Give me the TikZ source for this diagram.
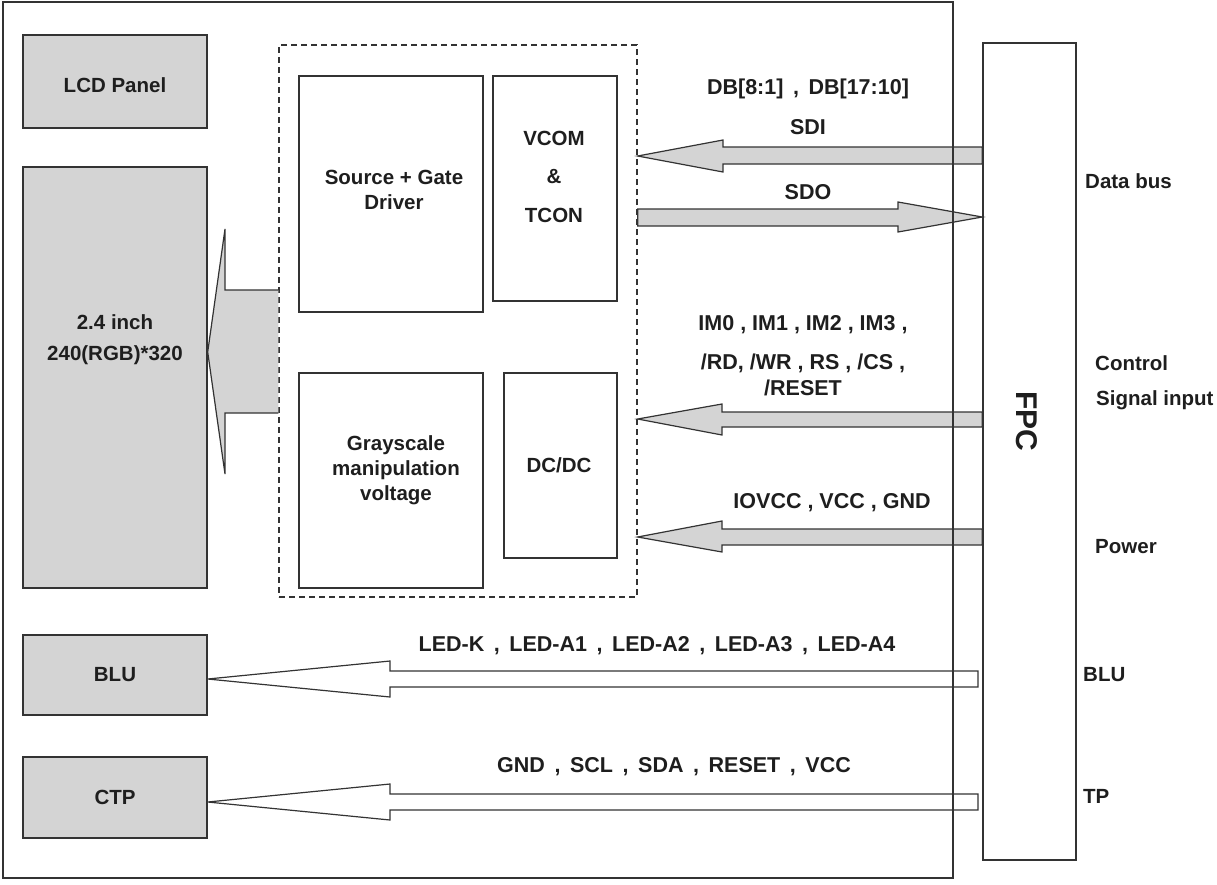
\documentclass[tikz,border=0pt]{standalone}
\usepackage{fontspec}
\setmainfont{Liberation Sans}
\definecolor{boxgray}{HTML}{D4D4D4}
\definecolor{linegray}{HTML}{333333}
\definecolor{txt}{HTML}{1E1E1E}
\begin{document}
\begin{tikzpicture}[x=1pt,y=-1pt,
  every node/.style={font=\fontsize{20.5}{24}\selectfont\bfseries, text=txt},
  blk/.style={draw=linegray, line width=1.4pt, inner sep=0pt, minimum width=#1},
  gblk/.style={blk=#1, fill=boxgray},
  fat/.style={draw=linegray, line width=1.2pt, fill=boxgray, line join=miter},
  thin/.style={draw=linegray, line width=1.2pt, fill=white, line join=miter},
  lbl/.style={inner sep=0pt},
  albl/.style={inner sep=0pt, font=\fontsize{21.5}{24}\selectfont\bfseries},
  rlbl/.style={inner sep=0pt, anchor=west}]
\useasboundingbox (0,0) rectangle (1217,884);

% left column boxes
\node[gblk=184pt, minimum height=93pt] (lcd) at (115,81.5) {};
\node[lbl] (lcdt) at (115,85) {LCD Panel};
\node[gblk=184pt, minimum height=421pt] (panel) at (115,377.5) {};
\node[lbl] (panelt1) at (115,322) {2.4 inch};
\node[lbl] (panelt2) at (115,355) {240(RGB)*320};
\node[gblk=184pt, minimum height=80pt] (blu) at (115,675) {};
\node[lbl] (blut) at (115,675) {BLU};
\node[gblk=184pt, minimum height=81pt] (ctp) at (115,797.5) {};
\node[lbl] (ctpt) at (115,797) {CTP};

% driver IC block
\node[draw=linegray, line width=1.3pt, dash pattern=on 6pt off 4pt, inner sep=0pt,
      minimum width=358pt, minimum height=552pt] (dash) at (458,321) {};
\node[blk=184pt, minimum height=236pt] (src) at (391,194) {};
\node[lbl] (srct1) at (394,177) {Source + Gate};
\node[lbl] (srct2) at (394,202) {Driver};
\node[blk=124pt, minimum height=225pt] (vcom) at (555,188.5) {};
\node[lbl] (vcomt1) at (554,138) {VCOM};
\node[lbl] (vcomt2) at (554,177) {\&};
\node[lbl] (vcomt3) at (554,215) {TCON};
\node[blk=184pt, minimum height=215pt] (gray) at (391,480.5) {};
\node[lbl] (grayt1) at (396,445) {Grayscale};
\node[lbl] (grayt2) at (396,470) {manipulation};
\node[lbl] (grayt3) at (396,495) {voltage};
\node[blk=113pt, minimum height=185pt] (dcdc) at (560.5,465.5) {};
\node[lbl] (dcdct) at (559,465) {DC/DC};

% FPC
\node[blk=93pt, minimum height=817pt, fill=white] (fpc) at (1029.5,451.5) {};
\node[lbl, rotate=-90, font=\fontsize{30}{34}\selectfont\bfseries] (fpct) at (1027,421) {FPC};

% big arrow to panel
\fill[boxgray] (panel.east |- 0,352) -- (225,229) -- (225,290) -- (dash.west |- 0,290)
   -- (dash.west |- 0,413) -- (225,413) -- (225,474) -- cycle;
\draw[linegray, line width=1.2pt, line join=miter] (dash.west |- 0,290) -- (225,290) -- (225,229)
   -- (panel.east |- 0,352) -- (225,474) -- (225,413) -- (dash.west |- 0,413);

% data bus arrows
\draw[fat] (dash.east |- 0,156) -- (723,140) -- (723,147) -- (fpc.west |- 0,147)
   -- (fpc.west |- 0,164) -- (723,164) -- (723,172) -- cycle;
\draw[fat] (dash.east |- 0,209) -- (898,209) -- (898,202) -- (fpc.west |- 0,217)
   -- (898,232) -- (898,226) -- (dash.east |- 0,226) -- cycle;
% control
\draw[fat] (dash.east |- 0,419) -- (722,404) -- (722,412) -- (fpc.west |- 0,412)
   -- (fpc.west |- 0,427) -- (722,427) -- (722,435) -- cycle;
% power
\draw[fat] (dash.east |- 0,537) -- (722,521) -- (722,529) -- (fpc.west |- 0,529)
   -- (fpc.west |- 0,545) -- (722,545) -- (722,552) -- cycle;
% BLU / CTP
\coordinate (bluEnd) at (978,679);
\coordinate (ctpEnd) at (978,802);
\draw[thin] (blu.east |- 0,679) -- (390,661) -- (390,671) -- (bluEnd |- 0,671)
   -- (bluEnd |- 0,687) -- (390,687) -- (390,697) -- cycle;
\draw[thin] (ctp.east |- 0,802) -- (390,784) -- (390,794) -- (ctpEnd |- 0,794)
   -- (ctpEnd |- 0,810) -- (390,810) -- (390,820) -- cycle;

% outer frame (over the arrows)
\draw[linegray, line width=1.3pt] (3,2) rectangle (953,878);

% arrow labels
\node[albl] (dbl) at (808,89) {DB[8:1]\, , \,DB[17:10]};
\node[albl] (sdil) at (808,127) {SDI};
\node[albl] (sdol) at (808,192) {SDO};
\node[albl] (ctl1) at (803,325) {IM0 , IM1 , IM2 , IM3 ,};
\node[albl] (ctl2) at (803,363) {/RD, /WR , RS , /CS ,};
\node[albl] (ctl3) at (803,388) {/RESET};
\node[albl] (pwl) at (832,503) {IOVCC , VCC , GND};
\node[albl] (ledl) at (657,646) {LED-K\, , \,LED-A1\, , \,LED-A2\, , \,LED-A3\, , \,LED-A4};
\node[albl] (tpl) at (674,767) {GND\, , \,SCL\, , \,SDA\, , \,RESET\, , \,VCC};

% right labels
\node[rlbl] (r1) at (1085,181) {Data bus};
\node[rlbl] (r2) at (1095,363) {Control};
\node[rlbl] (r3) at (1096,400) {Signal input};
\node[rlbl] (r4) at (1095,547) {Power};
\node[rlbl] (r5) at (1083,675) {BLU};
\node[rlbl] (r6) at (1083,796) {TP};
\end{tikzpicture}
\end{document}
